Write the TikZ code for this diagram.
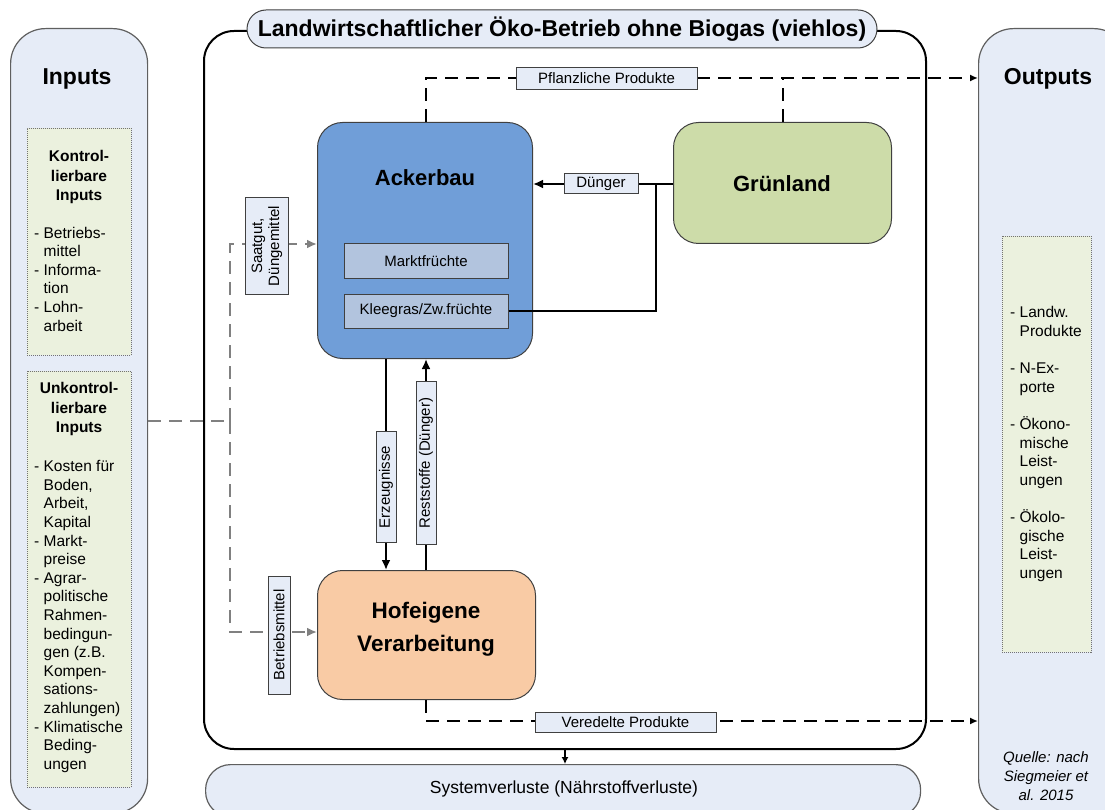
\documentclass[tikz,border=0pt]{standalone}
\usepackage{fontspec}
\setmainfont{Liberation Sans}
\usetikzlibrary{arrows.meta,calc}

\definecolor{panelblue}{RGB}{230,236,247}
\definecolor{notegreen}{RGB}{235,241,222}
\definecolor{ackerblue}{RGB}{112,158,216}
\definecolor{cropblue}{RGB}{178,196,222}
\definecolor{gruengreen}{RGB}{205,220,169}
\definecolor{hoforange}{RGB}{249,203,165}
\definecolor{edgegray}{RGB}{95,95,95}
\definecolor{dashgray}{RGB}{128,128,128}

\newcommand{\fs}[2]{\fontsize{#1}{#2}\selectfont}
\newcommand{\hang}{\phantom{- }}

\tikzset{
  panel/.style={draw=edgegray, line width=1.2pt, fill=panelblue, rounded corners=35pt,
    anchor=north west, inner sep=0pt},
  notebox/.style={draw=black!55, line width=0.8pt, dash pattern=on 1pt off 1pt,
    fill=notegreen, anchor=north west, inner sep=0pt},
  unit/.style={draw=black!75, line width=1pt, rounded corners=25pt, anchor=north west,
    inner sep=0pt, align=center, font=\bfseries\fs{22}{33}},
  cropbox/.style={draw=black!75, line width=1pt, fill=cropblue, inner sep=0pt,
    minimum width=164pt, minimum height=34pt, font=\fs{15}{18}},
  lbl/.style={draw=black!75, line width=0.8pt, fill=panelblue, inner sep=0pt,
    minimum height=20pt, font=\fs{15}{18}},
  vlbl/.style={lbl, rotate=90},
  heading/.style={font=\bfseries\fs{23}{27}},
  unittext/.style={inner sep=0pt, align=center, font=\bfseries\fs{22}{33}},
  listtext/.style={align=left, inner sep=0pt, font=\fs{15.5}{18.6}},
  conn/.style={draw=black, line width=2pt},
  blackdash/.style={draw=black, line width=2pt, dash pattern=on 13pt off 8pt},
  graydash/.style={draw=dashgray, line width=2pt, dash pattern=on 13pt off 8pt},
  tip/.style={-{Latex[length=10pt,width=9pt]}},
  smalltip/.style={-{Latex[length=8pt,width=7pt]}},
}

\begin{document}
\begin{tikzpicture}[x=1pt,y=-1pt]
\useasboundingbox (0,0) rectangle (1105,810);
\clip (0,0) rectangle (1105,810);

% ---------- side panels ----------
\node[panel, minimum width=137pt, minimum height=785pt] (inputs) at (10,28) {};
\node[heading] (inputsHead) at (77,79) {Inputs};
\node[notebox, minimum width=104pt, minimum height=227pt] (ctrl) at (27,128) {};
\node[align=center, inner sep=0pt, font=\bfseries\fs{15.5}{19.5}] (ctrlHead) at (79,177)
  {Kontrol-\\lierbare\\Inputs};
\node[listtext, anchor=west] (ctrlList) at (34,279)
  {- Betriebs-\\\hang mittel\\- Informa-\\\hang tion\\- Lohn-\\\hang arbeit};
\node[notebox, minimum width=104pt, minimum height=416pt] (unctrl) at (27,371) {};
\node[align=center, inner sep=0pt, font=\bfseries\fs{15.5}{19.5}] (unctrlHead) at (79,409)
  {Unkontrol-\\lierbare\\Inputs};
\node[listtext, anchor=west] (unctrlList) at (34,616.5)
  {- Kosten für\\\hang Boden,\\\hang Arbeit,\\\hang Kapital\\- Markt-\\\hang preise\\
   - Agrar-\\\hang politische\\\hang Rahmen-\\\hang bedingun-\\\hang gen (z.B.\\
   \hang Kompen-\\\hang sations-\\\hang zahlungen)\\- Klimatische\\\hang Beding-\\\hang ungen};

\node[panel, minimum width=150pt, minimum height=785pt] (outputs) at (978,28) {};
\node[heading] (outputsHead) at (1048,79) {Outputs};
\node[notebox, minimum width=89pt, minimum height=416pt] (results) at (1002,236) {};
\node[listtext, anchor=west] (resultList) at (1010,444)
  {- Landw.\\\hang Produkte\\[18.6pt]- N-Ex-\\\hang porte\\[18.6pt]- Ökono-\\\hang mische\\
   \hang Leist-\\\hang ungen\\[18.6pt]- Ökolo-\\\hang gische\\\hang Leist-\\\hang ungen};
\node[align=center, inner sep=0pt, font=\itshape\fs{15}{19}] (source) at (1046,776)
  {Quelle: nach\\Siegmeier et\\al. 2015};

% ---------- farm frame ----------
\node[draw=black, line width=2pt, rounded corners=30pt, anchor=north west, inner sep=0pt,
  minimum width=722pt, minimum height=718pt] (farm) at (203,30) {};
\node[draw=black!75, line width=1pt, fill=panelblue, rounded corners=19pt, inner sep=0pt,
  minimum width=630pt, minimum height=38pt, font=\bfseries\fs{23}{26}] (title) at (562,29)
  {Landwirtschaftlicher Öko-Betrieb ohne Biogas (viehlos)};

\node[draw=edgegray, line width=1.2pt, fill=panelblue, rounded corners=25pt, anchor=north west,
  inner sep=0pt, minimum width=715pt, minimum height=52pt] (loss) at (205,764) {};
\node[font=\fs{17.5}{20}, inner sep=0pt] (lossText) at (564,789) {Systemverluste (Nährstoffverluste)};

% ---------- farm units ----------
\node[unit, fill=ackerblue, minimum width=215pt, minimum height=236pt] (acker) at (317,122) {};
\node[unittext] (ackerHead) at (425,178) {Ackerbau};
\node[cropbox] (markt) at (426,261) {Marktfrüchte};
\node[cropbox] (klee) at (426,311) {Kleegras/Zw.früchte};

\node[unit, fill=gruengreen, minimum width=218pt, minimum height=121pt] (gruen) at (673,122) {};
\node[unittext] (gruenHead) at (782,184) {Grünland};
\node[unit, fill=hoforange, minimum width=218pt, minimum height=129pt] (hof) at (317,570) {};
\node[unittext, font=\bfseries\fs{22.5}{33}] (hofHead) at (426,629) {Hofeigene\\Verarbeitung};

% ---------- helper coordinates ----------
\coordinate (plantRow) at (0,78);
\coordinate (dungRow) at (0,184);
\coordinate (dungJoin) at (656,184);
\coordinate (prodCol) at (386,0);
\coordinate (restCol) at (426,0);
\coordinate (refinedRow) at (426,721);
\coordinate (inSplit) at (230,421);
\coordinate (seedRow) at (0,244);
\coordinate (equipRow) at (0,632);

% ---------- flows ----------
% plant products to outputs
\draw[blackdash, smalltip] (acker.north -| restCol) |- (outputs.west |- plantRow);
\draw[blackdash] (gruen.north) -- (gruen.north |- plantRow);
% manure from grassland, clover grass feeding back
\draw[conn, tip] (gruen.west |- dungRow) -- (acker.east |- dungRow);
\draw[conn] (klee.east) -| (dungJoin);
% products and residues between field and processing
\draw[conn, tip] (acker.south -| prodCol) -- (hof.north -| prodCol);
\draw[conn, tip] (hof.north -| restCol) -- (acker.south -| restCol);
% refined products to outputs
\draw[blackdash, smalltip] (hof.south -| refinedRow) |- (outputs.west |- refinedRow);
% inputs into the farm
\draw[graydash] (inputs.east |- inSplit) -- (inSplit);
\draw[graydash, -{Latex[length=10pt,width=9pt]}] (inSplit) |- (acker.west |- seedRow);
\draw[graydash, -{Latex[length=10pt,width=9pt]}] (inSplit) |- (hof.west |- equipRow);
% losses
\draw[draw=black, line width=1.2pt, -{Latex[length=7pt,width=7pt]}] (farm.south) -- (farm.south |- loss.north);

% ---------- flow labels ----------
\node[lbl, minimum width=181pt, minimum height=22pt] (plantLbl) at (606.5,78) {Pflanzliche Produkte};
\node[lbl, minimum width=74pt] (dungLbl) at (601,183.5) {Dünger};
\node[vlbl, minimum width=111pt] (prodLbl) at (386,487) {Erzeugnisse};
\node[vlbl, minimum width=163pt] (restLbl) at (426,463) {Reststoffe (Dünger)};
\node[lbl, minimum width=181pt] (refinedLbl) at (625.5,722) {Veredelte Produkte};
\node[vlbl, minimum width=97pt, minimum height=43pt, align=center, font=\fs{15}{17}] (seedLbl)
  at (267,246) {Saatgut,\\Düngemittel};
\node[vlbl, minimum width=118pt, minimum height=22pt] (equipLbl) at (279,635) {Betriebsmittel};
\end{tikzpicture}
\end{document}
